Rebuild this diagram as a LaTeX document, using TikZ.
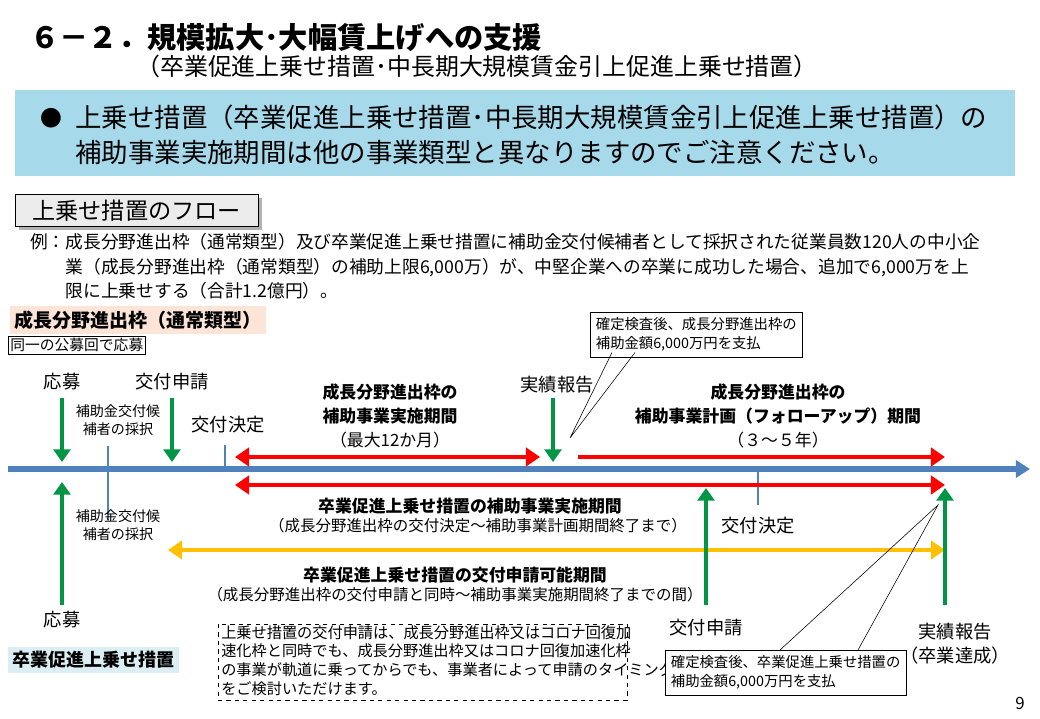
\documentclass[tikz,border=0pt]{standalone}
\usepackage{fontspec}
\setmainfont{Noto Sans CJK JP}
\usetikzlibrary{arrows.meta}
\definecolor{hdrblue}{RGB}{166,217,234}
\definecolor{axisblue}{RGB}{79,129,189}
\definecolor{arrgreen}{RGB}{0,150,70}
\definecolor{arryellow}{RGB}{255,192,0}
\definecolor{tagorange}{RGB}{252,228,214}
\definecolor{tagblue}{RGB}{218,238,243}
\tikzset{
  lbl/.style={inner sep=0pt,font=\fontsize{13}{15}\selectfont},
  sml/.style={inner sep=0pt,font=\fontsize{10}{13}\selectfont,align=center},
  bld/.style={inner sep=0pt,font=\fontsize{12}{17}\selectfont\bfseries,align=center},
  garrow/.style={arrgreen,line width=3pt,-{Triangle[length=9pt,width=12pt]}},
  rarrow/.style={red,line width=3.5pt,-{Triangle[length=10pt,width=13pt]}},
  tick/.style={axisblue,line width=2pt},
  callout/.style={draw,fill=white,inner sep=4pt,font=\fontsize{10.2}{13.5}\selectfont,align=left}
}
\begin{document}
\begin{tikzpicture}[x=0.025cm,y=-0.025cm]
\useasboundingbox (0,0) rectangle (1040,718);
% heading
\node[anchor=west,inner sep=0pt,font=\fontsize{20.8}{24}\selectfont\bfseries] (title) at (30,38) {６－２．規模拡大･大幅賃上げへの支援};
\node[inner sep=0pt,font=\fontsize{17}{19}\selectfont] (subtitle) at (477,66) {（卒業促進上乗せ措置･中長期大規模賃金引上促進上乗せ措置）};
\fill[hdrblue] (15,90) rectangle (1015,176);
\node[anchor=west,inner sep=0pt,font=\fontsize{15.5}{18}\selectfont] (bullet) at (40,118) {●};
\node[anchor=west,inner sep=0pt,font=\fontsize{18.8}{25}\selectfont,align=left] (note) at (75,135) {上乗せ措置（卒業促進上乗せ措置･中長期大規模賃金引上促進上乗せ措置）の\\補助事業実施期間は他の事業類型と異なりますのでご注意ください。};
% flow title
\fill[gray!60] (19,198) rectangle (262,230);
\node[draw,fill=gray!15,inner sep=0pt,font=\fontsize{16.5}{18}\selectfont,anchor=north west,minimum height=32*0.025cm,minimum width=243*0.025cm] (flow) at (15,194) {上乗せ措置のフロー};
\node[anchor=north west,inner sep=0pt,font=\fontsize{12.6}{17.5}\selectfont,align=left] (ex) at (30,233) {例：成長分野進出枠（通常類型）及び卒業促進上乗せ措置に補助金交付候補者として採択された従業員数120人の中小企\\\hspace{2em}業（成長分野進出枠（通常類型）の補助上限6,000万）が、中堅企業への卒業に成功した場合、追加で6,000万を上\\\hspace{2em}限に上乗せする（合計1.2億円）。};
% tags
\node[fill=tagorange,anchor=west,inner sep=3pt,font=\fontsize{13.5}{15}\selectfont\bfseries] (tagA) at (10,320) {成長分野進出枠（通常類型）};
\node[draw,anchor=west,inner sep=1.5pt,font=\fontsize{10.5}{12}\selectfont] (same) at (8,345) {同一の公募回で応募};
\node[fill=tagblue,anchor=west,inner sep=3pt,font=\fontsize{12.8}{14}\selectfont\bfseries] (tagB) at (8,660) {卒業促進上乗せ措置};
% axis
\coordinate (ax0) at (8,469);
\coordinate (ax1) at (1030,469);
\draw[axisblue,line width=4pt,-{Triangle[length=10pt,width=12pt]}] (ax0) -- (ax1);
\draw[tick] (108,446) -- (108,520);
\draw[tick] (225,445) -- (225,469);
\draw[tick] (758,469) -- (758,505);
% upper labels
\node[lbl] (app1) at (62,382) {応募};
\node[lbl] (req1) at (172,382) {交付申請};
\node[sml] (sel1) at (118,420) {補助金交付候\\補者の採択};
\node[lbl] (dec1) at (228,425) {交付決定};
\node[lbl] (rep1) at (557,385) {実績報告};
\coordinate (a1) at (62,462); \coordinate (b1) at (172,462); \coordinate (c1) at (553,462);
\draw[garrow] (62,398) -- (a1);
\draw[garrow] (172,398) -- (b1);
\draw[garrow] (553,398) -- (c1);
% periods
\coordinate (r1s) at (235,457); \coordinate (r1e) at (540,457);
\draw[rarrow,{Triangle[length=10pt,width=13pt]}-{Triangle[length=10pt,width=13pt]}] (r1s) -- (r1e);
\node[bld] (per1) at (390,416) {成長分野進出枠の\\補助事業実施期間\\\normalfont（最大12か月）};
\coordinate (r2s) at (578,457); \coordinate (r2e) at (945,457);
\draw[rarrow] (r2s) -- (r2e);
\node[bld] (per2) at (778,416) {成長分野進出枠の\\補助事業計画（フォローアップ）期間\\\normalfont（３～５年）};
\coordinate (r3s) at (235,485); \coordinate (r3e) at (945,485);
\draw[rarrow,{Triangle[length=10pt,width=13pt]}-{Triangle[length=10pt,width=13pt]}] (r3s) -- (r3e);
\node[bld] (per3) at (470,506) {卒業促進上乗せ措置の補助事業実施期間};
\node[sml,font=\fontsize{11}{13}\selectfont] (per3b) at (478,526) {（成長分野進出枠の交付決定～補助事業計画期間終了まで）};
\coordinate (y1s) at (168,550); \coordinate (y1e) at (945,550);
\draw[arryellow,line width=3.5pt,{Triangle[length=10pt,width=13pt]}-{Triangle[length=10pt,width=13pt]}] (y1s) -- (y1e);
\node[bld] (per4) at (455,575) {卒業促進上乗せ措置の交付申請可能期間};
\node[sml,font=\fontsize{11}{13}\selectfont] (per4b) at (455,595) {（成長分野進出枠の交付申請と同時～補助事業実施期間終了までの間）};
% lower labels
\node[lbl] (dec2) at (758,526) {交付決定};
\node[sml] (sel2) at (118,525) {補助金交付候\\補者の採択};
\node[lbl] (app2) at (62,620) {応募};
\node[lbl] (req2) at (706,628) {交付申請};
\node[lbl,align=center,font=\fontsize{13}{17}\selectfont] (rep2) at (955,644) {実績報告\\（卒業達成）};
\coordinate (a2) at (62,482); \coordinate (b2) at (706,488); \coordinate (c2) at (945,488);
\draw[garrow] (62,605) -- (a2);
\draw[garrow] (706,605) -- (b2);
\draw[garrow] (945,605) -- (c2);
% dashed note
\draw[dashed] (218,624) rectangle (627,700);
\node[anchor=north west,inner sep=0pt,font=\fontsize{10.8}{13.3}\selectfont,align=left] (dash) at (221,625) {上乗せ措置の交付申請は、成長分野進出枠又はコロナ回復加\\速化枠と同時でも、成長分野進出枠又はコロナ回復加速化枠\\の事業が軌道に乗ってからでも、事業者によって申請のタイミング\\をご検討いただけます。};
% callouts
\node[callout,anchor=north west] (cal1) at (590,312) {確定検査後、成長分野進出枠の\\補助金額6,000万円を支払};
\coordinate (tip1) at (570,438);
\draw (612,352.5) -- (tip1) -- (635,352.5);
\fill[white] (613,351) rectangle (634,354);
\node[callout,anchor=north west] (cal2) at (665,650) {確定検査後、卒業促進上乗せ措置の\\補助金額6,000万円を支払};
\coordinate (tip2) at (938,505);
\draw (780,650) -- (tip2) -- (858,650);
\node[inner sep=0pt,font=\fontsize{12}{13}\selectfont] (page) at (1020,703) {9};
\end{tikzpicture}
\end{document}
